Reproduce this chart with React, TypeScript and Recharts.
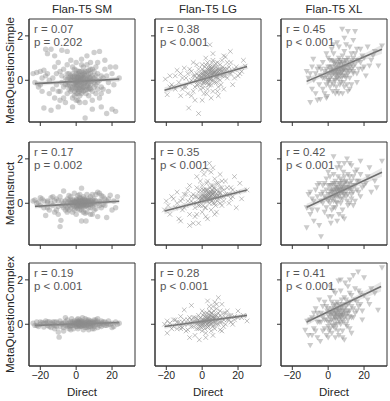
import React from 'react';
import { ComposedChart, Scatter, Area, XAxis, YAxis, ReferenceLine, ReferenceArea } from 'recharts';

const MODELS = ['Flan-T5 SM', 'Flan-T5 LG', 'Flan-T5 XL'];
const PROMPTS = ['MetaQuestionSimple', 'MetaInstruct', 'MetaQuestionComplex'];
const R_LABELS = [
  ['r = 0.07', 'r = 0.38', 'r = 0.45'],
  ['r = 0.17', 'r = 0.35', 'r = 0.42'],
  ['r = 0.19', 'r = 0.28', 'r = 0.41'],
];
const P_LABELS = [
  ['p = 0.202', 'p < 0.001', 'p < 0.001'],
  ['p = 0.002', 'p < 0.001', 'p < 0.001'],
  ['p < 0.001', 'p < 0.001', 'p < 0.001'],
];
const X_TICKS = [-20, 0, 20];
const Y_TICKS = [0, 2];
const X_DOMAIN: [number, number] = [-26.3, 32.8];
const Y_DOMAIN: [number, number] = [-1.88, 2.76];

// regression line endpoints [[x0, y0], [x1, y1]] per panel, row-major
const FIT_LINES: number[][][] = [
  [[-23, -0.15], [24, 0.05]], [[-21, -0.45], [25, 0.62]], [[-12, -0.05], [30, 1.4]],
  [[-23, -0.14], [24, 0.09]], [[-21, -0.35], [25, 0.6]], [[-12, -0.18], [30, 1.4]],
  [[-23, -0.05], [24, 0.08]], [[-21, -0.1], [25, 0.4]], [[-12, 0.1], [29.5, 1.7]],
];
// confidence band half-widths (y units) at left end, centre, right end of each fit
const BAND_HALF: number[][] = [
  [0.12, 0.04, 0.12], [0.14, 0.05, 0.12], [0.16, 0.06, 0.2],
  [0.1, 0.03, 0.1], [0.14, 0.05, 0.12], [0.16, 0.06, 0.2],
  [0.06, 0.02, 0.06], [0.1, 0.04, 0.1], [0.16, 0.06, 0.22],
];
const BAND_MID_X = [2, 3, 6];

const SM_SIMPLE = [[-24,0.3],[-22,0.35],[-20,0.4],[-18,0.45],[-16,0.3],[-23,-0.1],[-21,-0.3],[-19,-0.5],[-17,1.4],[-14,1.4],[-16,1.2],[-12,1.1],[-10,0.8],[-8,1.35],[-5,1.3],[-3,0.9],[0,0.8],[3,0.95],[6,1.1],[10,1.25],[13,1.3],[16,0.9],[19,0.6],[22,0.6],[24,0.1],[21,-0.2],[18,-0.5],[20,-1.3],[22,-1.4],[17,-1.5],[14,-1.2],[9,-1.3],[5,-1.7],[2,-1.0],[-2,-1.2],[-6,-1.0],[-10,-1.2],[-14,-1.35],[-18,-1.25],[-12,-0.8],[-15,-0.6],[-9,-0.5],[-11,-0.2],[-13,0.1],[-8,0.2],[-7,-0.3],[-5,-0.6],[-4,0.1],[-3,-0.3],[-2,0.3],[-1,-0.5],[0,-0.2],[0,0.1],[1,0.3],[1,-0.4],[2,0],[2,-0.2],[3,0.2],[3,-0.6],[4,0.1],[4,-0.3],[5,0.4],[5,-0.1],[6,-0.4],[6,0.2],[7,0],[7,-0.7],[8,0.3],[8,-0.2],[9,0.5],[10,-0.3],[10,0.1],[11,-0.6],[12,0.3],[12,-0.1],[14,0.2],[15,-0.4],[16,0.5],[13,-0.8],[-1,0.5],[-2,-0.8],[0,-0.6],[1,0.0],[2,0.2],[3,-0.1],[-3,0.0],[-5,0.3],[-6,-0.2],[-4,-0.4],[4,0.6],[6,0.7],[9,-0.9],[-7,0.5],[-9,-0.9],[11,0.6],[1,-0.9],[-1,0.2],[0.5,-0.05],[2.5,0.05],[3.5,-0.35],[-0.5,-0.1],
  [-6,0.1],[-5,-0.2],[-4,-0.1],[-4,0.3],[-3,0.2],[-3,-0.5],[-2,0],[-2,-0.3],[-1,-0.2],[-1,0.0],[-1,-0.7],[0,0.3],[0,0],[0,-0.4],[0.5,0.2],[1,0.1],[1,-0.2],[1.5,-0.5],[1.5,0.4],[2,-0.4],[2,0.4],[2.5,-0.3],[3,0.4],[3,0],[3.5,0.1],[4,-0.1],[4,-0.5],[4.5,0.3],[5,0.1],[5,-0.3],[5.5,-0.6],[6,0],[6,0.4],[6.5,-0.2],[7,0.3],[7,-0.4],[7.5,0.1],[8,-0.4],[8,0.5],[9,0],[9,-0.5],[10,0.4],[11,-0.2],[11,0.2],[12,-0.4],[13,0],[14,-0.3],[15,0.1],[-8,-0.1],[-9,0.4],[-10,-0.5],[-11,0.3],[-13,-0.4],[-15,0],[-17,0.2],[-19,0.1],[-20,-0.2],[17,0.2],[18,-0.1],[20,0.3],[-7,-0.8],[-5,0.7],[2,-0.7],[3,0.7],[8,0.8],[12,0.8],[-2,0.6],[0,-0.9],[5,-1.0],[-12,0.6],[14,-0.6],
  [0,-0.1],[0.5,-0.3],[1,0.15],[1.5,-0.1],[2,-0.05],[2.5,0.15],[3,-0.25],[3.5,0.25],[4,0],[4.5,-0.15],[5,0.2],[5.5,-0.05],[6,-0.25],[6.5,0.1],[7,-0.15],[7.5,-0.35],[8,0.1],[8.5,-0.05],[9,0.2],[-0.5,-0.35],[-1,0.1],[-1.5,-0.15],[-2,0.15],[-2.5,-0.4],[-3,0.1],[-4,-0.2],[-5,0.05],[10,-0.1],[11,0],[3,-0.45],[5,-0.45],[1,-0.6],[4,0.35],[7,0.45],[0,0.45]];
const LG_SIMPLE = [[-20.5,0.05],[-19.5,-0.65],[-18,0.2],[-16,-0.3],[-14,0.45],[-13,-0.1],[-12,-0.7],[-11,0.1],[-10,0.55],[-9,-0.3],[-8,0.3],[-7.5,-1.25],[-7,-0.1],[-6,0.4],[-5,-0.5],[-4,-0.9],[-4,0.2],[-3,-0.2],[-2,-1.5],[-2,0.5],[-1,0],[-1,-0.4],[0,0.3],[0,-0.2],[0,0.7],[1,0.1],[1,-0.6],[2,0.4],[2,-0.1],[3,0.15],[3,0.8],[3,-0.4],[4,0.3],[4,-0.2],[4.3,1.6],[5,0.5],[5,0],[6,0.2],[6,-0.5],[6,0.9],[7,0.4],[7,-0.1],[8,0.6],[8,0.1],[9,0.3],[9,-0.3],[10,0.7],[10,0],[11,0.4],[12,0.2],[12,-0.4],[13,1.05],[13,0.5],[14,0.1],[15,0.6],[15.7,1.3],[16,0.3],[17,-0.2],[18,0.5],[20,0.2],[22,0.4],[24,0.64],[-5,0.8],[-8,-0.6],[-15,0.2],[1.5,0.6],[2.5,-0.6],[3.5,0.45],[5.5,0.25],[7.5,0.75],[8.5,-0.5],[11,0.9],[-0.5,0.15],[1,0.35],[2,0.05],[4.5,0.05],[-2.5,-0.05],[0.5,-0.35],[9.5,0.45],[14,0.8],[-10,-0.3],[-17,-0.2],
  [-6,0],[-5,0.2],[-4,-0.3],[-3,0.3],[-3,0.1],[-2,-0.2],[-2,0.2],[-1,0.3],[-1,0.1],[0,0.1],[0,0.5],[0.5,-0.1],[1,0.4],[1,0.2],[1.5,0],[2,0.2],[2,0.7],[2.5,0.3],[3,0],[3,0.5],[3.5,-0.2],[4,0.5],[4,0.1],[4.5,0.6],[5,0.3],[5,-0.2],[5.5,0.8],[6,0.4],[6,0],[6.5,0.2],[7,0.6],[7,0.2],[7.5,0.4],[8,0.3],[8,-0.1],[8.5,0.8],[9,0.5],[9,0.1],[10,0.3],[10,0.5],[10.5,-0.2],[11,0.2],[11.5,0.6],[12,0.5],[13,0.2],[14,0.5],[15,0.3],[16,0.8],[17,0.4],[19,0.6],[21,0.3],[-7,0.5],[-9,0.1],[-11,-0.4],[-12,0.3],[-15,-0.4],[-6,-0.7],[0,-0.9],[5,-0.8],[9,-0.7],[12,1.1],[6,1.2],[2,1.0],[-3,0.7],[18,0.1],[23,0.9],[-18,-0.3],
  [1,0.25],[2,0.35],[3,0.25],[4,0.2],[5,0.4],[6,0.3],[7,0.35],[8,0.45],[9,0.4],[2.5,0.1],[3.5,0.3],[4.5,0.45],[5.5,0.55],[6.5,0.35],[7.5,0.25],[0,0],[-1,0.2],[-2,0.05],[10,0.25],[11,0.5],[4,0.65],[6,0.6],[8,0.15],[3,-0.1],[1,-0.1],[5,0.1],[12,0.35],[-4,0.0]];
const XL_SIMPLE = [[-12,0.4],[-11,0.1],[-10,-1.0],[-9,-0.4],[-8.3,0.95],[-8,0],[-7,-0.6],[-6,0.5],[-5,-0.2],[-4.4,-0.86],[-4,0.2],[-3,0.8],[-3,-0.4],[-2,0.1],[-1,0.5],[-0.6,-0.73],[0,-0.1],[0,0.3],[1,0.9],[1,-0.3],[2,0.2],[2,0.6],[3,-0.2],[3,1.2],[4,0.4],[4,0],[5,1.7],[5,0.7],[5,-0.5],[6,0.2],[6,1.0],[7,0.5],[7,-0.1],[7.8,2.3],[8,0.8],[8,0.2],[9,1.3],[9,-0.3],[10,0.6],[10,0.1],[11,2.2],[11,1.0],[12,0.4],[13,0.9],[13,-0.2],[14,0.6],[15,2.2],[15,1.2],[16,0.3],[17,0.9],[18,1.4],[19,0.5],[20,1.0],[21,0.2],[23,0.65],[25,1.1],[28,0.65],[30,1.55],[-1,1.2],[0.5,0.0],[1.5,0.45],[2.5,-0.5],[3.5,0.75],[4.5,0.25],[6.5,0.55],[8.5,0.5],[12,1.5],[14,1.8],[-6,-0.9],[3,1.6],[9,1.9],[6,-0.6],[-2,-0.6],[11,-0.5],[22,1.5],
  [-4,0.5],[-3,0.1],[-2,0.4],[-1,-0.2],[-1,0.2],[0,0.6],[0,0.0],[1,0.3],[1,0.6],[2,-0.1],[2,0.9],[3,0.3],[3,0.5],[3.5,0.0],[4,0.8],[4,0.2],[4.5,-0.3],[5,0.4],[5,0.1],[5.5,0.9],[6,0.5],[6,0.7],[6.5,-0.2],[7,0.3],[7,0.9],[7.5,0.1],[8,0.4],[8,1.1],[8.5,-0.1],[9,0.6],[9,0.2],[10,0.9],[10,0.4],[10.5,-0.2],[11,0.6],[11,0.3],[12,0.8],[12,0.1],[13,0.5],[13,1.2],[14,0.3],[14,1.0],[15,0.7],[16,0.9],[16,1.4],[17,0.5],[18,0.8],[19,1.1],[20,0.6],[-5,0.6],[-7,0.3],[-9,0.6],[-10,0.3],[2,1.4],[6,1.5],[10,1.6],[0,1.0],[4,-0.6],[8,-0.6],[12,-0.4],[-1,-0.8],[24,0.9],[26,1.3],[16,-0.1],
  [3,0.4],[4,0.6],[5,0.55],[6,0.35],[7,0.7],[8,0.55],[9,0.45],[10,0.75],[11,0.45],[12,0.6],[4.5,0.45],[5.5,0.25],[6.5,0.8],[7.5,0.35],[8.5,0.75],[2,0.35],[1,0.1],[13,0.7],[9.5,0.9],[6,0.05],[10,0.2],[3,0.85],[14,0.4]];
const SM_INSTRUCT = [[-24,0.1],[-23,0.15],[-21,0.05],[-20,-0.1],[-19,0.2],[-18,-0.2],[-17,-0.55],[-16,0.1],[-15,-0.3],[-14,0.25],[-13,-0.1],[-12,-0.4],[-11,0.2],[-10,-0.15],[-9,-1.05],[-8.5,-0.77],[-7,0.55],[-8,0.1],[-6,-0.3],[-5,0.2],[-4,-0.1],[-3,0.3],[-2,-0.4],[-1,0.1],[0,-0.2],[0,0.2],[1,-0.1],[1,0.35],[2,0],[2,-0.3],[3,0.68],[3,-0.8],[3,0.1],[4,-0.2],[4,0.3],[5,0.05],[5.5,-0.8],[6,-0.4],[6,0.4],[7,0.1],[7,-0.2],[8,0.3],[8,-0.5],[9,0],[10,0.2],[10,-0.3],[11,0.4],[12,0.5],[12,-0.6],[13,0.1],[14,-0.2],[15,0.3],[16,-0.1],[17,-0.64],[18,0.2],[19,0.36],[20,-0.3],[21,0.1],[22,-0.2],[23,0.3],[-1,-0.3],[0.5,0],[1.5,0.15],[2.5,-0.15],[3.5,0.2],[4.5,-0.05],[-2,0.15],[-3,-0.2],[-5,-0.4],[-7,-0.2],[-9,0.3],[-11,-0.3],[-13,0.3],[6,0.15],[8,-0.05],[9,0.4],[11,-0.25],[-0.5,0.05],[2,0.25],[4,-0.4],[-4,0.35],[14,0.35],[16,0.2],[-16,-0.2],[-20,0.25],
  [-8,-0.1],[-7,0],[-6,0.1],[-6,-0.1],[-5,0],[-5,-0.2],[-4,0.1],[-4,-0.3],[-3,0],[-3,0.15],[-2,-0.1],[-2,0.05],[-1,0],[-1,-0.15],[0,0],[0,0.1],[0,-0.1],[0.5,0.15],[1,0],[1,-0.25],[1.5,0.05],[2,0.1],[2,-0.1],[2.5,0.2],[3,-0.05],[3,-0.3],[3.5,0],[4,0.1],[4,-0.1],[4.5,0.2],[5,-0.15],[5,0.15],[5.5,0],[6,-0.1],[6,0.05],[7,0.2],[7,-0.05],[8,0.1],[8,-0.2],[9,0.15],[9,-0.1],[10,0],[10,0.1],[11,0.1],[12,0],[13,-0.1],[14,0.1],[15,-0.05],[17,0.1],[-10,0.1],[-12,0.1],[-14,0],[-16,0.05],[-18,0.1],[-22,0],[-10,-0.5],[0,-0.5],[5,-0.45],[2,0.4],[-1,0.45],[9,-0.5],[13,0.45],
  [0,0.05],[1,0.05],[2,-0.05],[3,0.05],[4,0],[5,0.1],[6,-0.05],[7,0.05],[8,0],[-1,0.05],[-2,-0.05],[1.5,-0.1],[2.5,0.1],[3.5,-0.1],[4.5,0.05],[5.5,-0.1],[6.5,0.1],[0.5,-0.15],[-3,0.05],[9,0.05],[10,-0.05]];
const LG_INSTRUCT = [[-21,-0.3],[-20,0.1],[-18,-0.5],[-17,0.3],[-15,-0.2],[-14,0.5],[-13,-0.7],[-12,0.1],[-11,-0.3],[-10,0.4],[-9,-0.1],[-8,0.6],[-7,-0.5],[-6,0.1],[-5,-0.9],[-5,0.4],[-4,-0.2],[-3,0.7],[-3,-0.5],[-2,0.2],[-1,-0.1],[-1,1.0],[0,0.4],[0,-0.4],[1,0.1],[1,1.3],[2,0.6],[2,-0.2],[3,0.3],[3,-0.7],[3,1.0],[4,0.2],[4,1.8],[5,0.5],[5,-0.3],[5,1.4],[6,0.8],[6,0],[7,0.3],[7,1.1],[8,0.6],[8,-0.4],[9,0.2],[9,0.9],[10,0.5],[11,-0.1],[11,0.7],[12,0.3],[13,1.0],[14,0.4],[15,0],[16,0.7],[17,0.3],[18,1.2],[20,0.5],[22,0.2],[25,0.6],[-7,-1.0],[-2,-0.9],[0.5,0.6],[1.5,0.25],[2.5,0.9],[3.5,0.45],[4.5,0.7],[5.5,0.1],[6.5,0.45],[7.5,-0.1],[0,1.5],[-3,1.2],[10,1.3],[-0.5,0.2],[2,0.3],[-12,-0.8],[19,-0.2],
  [-6,0.3],[-5,0],[-4,0.3],[-3,0],[-3,0.3],[-2,-0.1],[-2,0.5],[-1,0.3],[-1,0.6],[0,0.1],[0,0.2],[0,0.8],[0.5,-0.1],[1,0.4],[1,0.6],[1.5,-0.2],[2,0.1],[2,0.4],[2.5,0.6],[3,0.1],[3,0.6],[3.5,0.2],[4,0.4],[4,0],[4.5,0.3],[5,0.2],[5,0.8],[5.5,0.4],[6,0.5],[6,0.2],[6.5,0.7],[7,0],[7,0.5],[8,0.3],[8,0.9],[8.5,0.1],[9,0.5],[9.5,0.3],[10,0],[10,0.7],[11,0.3],[12,0.6],[12,0.1],[13,0.4],[14,0.7],[15,0.4],[16,0.2],[17,0.6],[-8,0.1],[-9,0.4],[-10,-0.2],[-11,0.2],[-14,0],[-16,0.2],[-7,0.8],[3,1.5],[6,1.6],[2,-0.6],[-4,-0.6],[7,-0.5],[11,1.0],[21,0.9],[-19,-0.1],
  [1,0.3],[2,0.25],[3,0.4],[4,0.3],[5,0.35],[6,0.4],[7,0.3],[8,0.45],[2.5,0.2],[3.5,0.5],[4.5,0.15],[5.5,0.6],[6.5,0.25],[0,0.3],[-1,0.15],[9,0.35],[10,0.45],[3,0.2],[5,0.5],[7,0.65]];
const XL_INSTRUCT = [[-12,-0.2],[-12,-1.1],[-11,0.4],[-10,-0.5],[-9,0.2],[-8,-0.8],[-7,0.6],[-6,-0.3],[-5,0.9],[-5,-1.0],[-4,-1.5],[-4,0.1],[-3,0.5],[-2,-0.4],[-1,0.2],[-1,1.1],[0,-0.6],[0,0.4],[1,0],[1,0.8],[2,-0.3],[2,0.5],[3,1.3],[3,0.1],[4,-0.2],[4,0.7],[5,0.3],[5,1.6],[6,-0.5],[6,0.6],[7,1.1],[7,0.2],[8,0.5],[8,-0.3],[9,0.9],[9,1.8],[10,0.3],[10.5,2.0],[11,0.7],[11,-0.1],[12,1.2],[13,0.4],[13,1.7],[14,0.8],[15,0.1],[15,1.4],[16,0.6],[17,1.0],[18,0.3],[18,1.9],[20,0.8],[22,1.2],[24,0.5],[26,1.0],[30,1.9],[-2,0.9],[0.5,0.2],[2.5,0.9],[3.5,0.35],[4.5,0.05],[6.5,0.9],[8.5,1.4],[1.5,-0.9],[-6,0.3],[9,-0.7],[12,0.0],[5,-0.8],[16,1.5],[3,2.1],[7,1.6],
  [-4,0.4],[-3,0],[-3,0.8],[-2,0.3],[-1,-0.2],[-1,0.6],[0,0.1],[0,0.8],[1,0.4],[1,1.2],[2,0.2],[2,0.8],[3,0.5],[3,-0.2],[3.5,0.9],[4,0.3],[4,1.0],[4.5,0.6],[5,0],[5,0.7],[5.5,1.2],[6,0.3],[6,0.9],[6.5,0.5],[7,0.6],[7,0.0],[7.5,1.0],[8,0.8],[8,0.2],[8.5,0.6],[9,0.4],[9,1.2],[10,0.7],[10,1.0],[10.5,0.1],[11,0.4],[11,1.3],[12,0.6],[12,0.9],[13,0.2],[13,1.0],[14,0.5],[14,1.2],[15,0.8],[16,1.0],[17,0.5],[18,1.3],[19,0.7],[21,0.9],[-6,0.8],[-8,0.1],[-9,-0.3],[-10,0.5],[0,1.4],[6,1.8],[12,1.8],[2,-0.6],[8,-0.6],[14,-0.1],[23,1.6],[27,0.7],
  [3,0.6],[4,0.5],[5,0.55],[6,0.7],[7,0.45],[8,0.65],[9,0.7],[10,0.5],[11,0.85],[4.5,0.8],[5.5,0.4],[6.5,0.6],[7.5,0.75],[8.5,0.4],[2,0.6],[12,0.7],[3,0.25],[9.5,0.95],[13,0.6],[1,0.55]];
const SM_COMPLEX = [[-24,0.05],[-23,-0.05],[-22,0.1],[-21,-0.1],[-20,0],[-19,0.08],[-18,-0.12],[-17,0.05],[-16,-0.05],[-15,0.12],[-14,-0.15],[-13,0],[-12,0.1],[-11,-0.1],[-10,-0.35],[-9.5,-0.58],[-9,-0.1],[-8,0.05],[-7,-0.15],[-6,0.3],[-5,0],[-4,-0.2],[-3,0.12],[-2,-0.05],[-1,0.15],[0,-0.1],[0,0.05],[1,0.1],[1,-0.2],[2,0],[2,0.2],[3,-0.1],[3,0.15],[4,0.05],[4,-0.25],[5,0.25],[5,-0.05],[6,0.1],[6,-0.15],[7,0],[7,0.2],[8,-0.1],[8,0.15],[9,0.05],[10,-0.2],[10,0.2],[11,0],[12,0.1],[12,-0.15],[13,0.05],[14,0.15],[14,-0.1],[15,0],[16,0.1],[17,-0.05],[18,0.15],[19,0],[20,0.05],[21,-0.1],[22,0.1],[23,0],[24,0.05],[-1.5,-0.2],[0.5,0.2],[1.5,-0.05],[2.5,0.1],[-3.5,-0.1],[-6,-0.05],[-12,-0.2],[-17,0.15],[9,-0.2],[11,0.2],[-2.5,0.25],[3.5,0.3],
  [-8,0],[-7,0.05],[-6,0.1],[-5,-0.1],[-4,0.05],[-3,-0.05],[-2,0.1],[-1,-0.05],[-1,0.05],[0,0],[0,0.12],[0.5,-0.1],[1,0.05],[1.5,0.1],[2,-0.1],[2,0.05],[3,0],[3,0.08],[4,0.12],[4,-0.05],[5,0.05],[5,-0.15],[6,0],[6,0.2],[7,-0.1],[7,0.1],[8,0],[8,0.05],[9,0.12],[9,-0.05],[10,0.05],[10,-0.1],[11,0.1],[12,0],[13,-0.05],[14,0.05],[15,0.1],[16,-0.05],[17,0.05],[18,0],[-10,0.05],[-11,0.1],[-12,-0.05],[-13,0.1],[-14,0.05],[-15,-0.1],[-16,0.1],[-18,0.05],[-20,0.1],[-22,-0.05],[-9,0.15],[-5,0.2],[-3,-0.25],[1,0.25],[7,-0.25],[12,0.25],[-7,-0.3],[20,-0.15],
  [0,0.03],[1,-0.03],[2,0.08],[3,-0.05],[4,0.02],[5,0.08],[6,-0.05],[7,0.05],[-1,0],[-2,0.03],[-3,0.05],[0.5,0.07],[1.5,0],[2.5,-0.08],[3.5,0.05],[4.5,-0.02],[8,0.08],[9,0],[-4,-0.05],[10,0.08]];
const LG_COMPLEX = [[-21,0],[-19.5,0.15],[-19.5,-0.4],[-18,0.05],[-16,-0.1],[-15,0.2],[-14,-0.2],[-13,0.1],[-12,0.35],[-11,-0.15],[-10,0.65],[-10,0],[-9,-0.3],[-8,0.2],[-7,-0.6],[-7,0.05],[-6,0.85],[-6,-0.1],[-5,0.3],[-4,-0.5],[-4,0.1],[-3,-0.2],[-2,0.4],[-1.6,-0.7],[-1,0],[0,0.2],[0,-0.3],[1,0.5],[1,-0.1],[2,0.15],[2,-0.4],[3,1.05],[3,0.3],[3,-0.15],[4,0.6],[4,0],[5,0.25],[5,-0.3],[6,0.8],[6,0.1],[7,0.4],[7,-0.2],[8,0.2],[8,0.7],[9,1.2],[9,0],[10,0.4],[11,0.1],[11,0.9],[12,0.5],[12,-0.1],[13,0.3],[14,0.6],[15,0.2],[16,0.4],[17,0],[18,0.35],[20,0.6],[22,0.3],[25,0.15],[-2,0.1],[0.5,0.05],[1.5,0.35],[2.5,0],[3.5,0.45],[4.5,0.15],[5.5,0.5],[6.5,-0.05],[-0.5,-0.15],[-3,0.25],[-8,-0.25],[10,-0.25],[7,1.0],[-12,-0.1],
  [-8,0],[-7,0.3],[-6,0.2],[-5,-0.1],[-5,0.1],[-4,0.3],[-3,0],[-3,0.1],[-2,-0.2],[-2,0.2],[-1,0.3],[-1,-0.1],[0,0],[0,0.1],[0.5,0.4],[1,0.2],[1,0],[1.5,-0.2],[2,0.3],[2,0.1],[2.5,0.5],[3,0],[3,0.15],[3.5,-0.1],[4,0.3],[4,0.1],[4.5,0.4],[5,0],[5,0.5],[5.5,0.2],[6,0.3],[6,-0.1],[6.5,0.6],[7,0.1],[7,0.3],[8,0],[8,0.4],[9,0.3],[9,0.5],[10,0.1],[10,0.6],[11,0.3],[12,0.2],[13,0],[13,0.5],[14,0.2],[15,0.4],[16,0.1],[18,0.2],[20,0.3],[-10,0.2],[-11,0.1],[-12,-0.2],[-14,0.1],[-16,0.2],[-17,-0.2],[4,0.8],[8,0.9],[0,0.6],[2,-0.6],[6,-0.5],[11,-0.3],[23,0.4],
  [1,0.15],[2,0.2],[3,0.25],[4,0.2],[5,0.15],[6,0.2],[7,0.25],[0,0.15],[-1,0.1],[2.5,0.15],[3.5,0.3],[4.5,0.1],[5.5,0.35],[1.5,0.1],[8,0.15],[9,0.2],[-2,0.0],[6.5,0.3]];
const XL_COMPLEX = [[-12.8,-0.27],[-11.7,0.14],[-11,-0.5],[-10,-0.95],[-9,0.3],[-8,-0.2],[-7,0.7],[-6,-0.6],[-5,0.1],[-4.4,-0.77],[-4,0.5],[-3,-0.3],[-2,1.0],[-2,0.2],[-1,-0.5],[0,0.4],[0,-0.1],[1,1.2],[1,0.1],[2,-0.4],[2,0.7],[3,0.2],[3,1.5],[4,-0.2],[4,0.6],[5,1.0],[5,0],[5.7,1.95],[6,0.4],[6,-0.5],[7,0.8],[7,1.5],[8,0.2],[8,-0.3],[9,0.6],[9.5,1.86],[10,1.1],[10,0],[11,0.5],[12,1.4],[12,-0.2],[13,0.8],[14,2.2],[14,0.3],[15,1.1],[16,0.6],[16.7,2.36],[17,1.5],[18,0.9],[19,0.2],[20,1.3],[22,1.1],[24,1.6],[27.8,0.64],[30,2.55],[-0.5,0.6],[0.5,-0.3],[1.5,0.45],[2.5,-0.05],[3.5,0.35],[4.5,0.85],[6.5,0.1],[7.5,0.5],[-3,0.8],[11,1.7],[9,-0.7],[-6,0.5],[13,-0.4],
  [-4,0.1],[-3,0.3],[-2,-0.2],[-1,0.2],[-1,0.8],[0,0.1],[0,0.7],[1,-0.2],[1,0.5],[2,0.2],[2,1.0],[3,0.6],[3,-0.1],[3.5,0.9],[4,0.3],[4,0.0],[4.5,0.5],[5,0.7],[5,0.3],[5.5,-0.3],[6,0.9],[6,0.2],[6.5,0.6],[7,0.0],[7,0.4],[7.5,1.1],[8,0.6],[8,0.9],[8.5,0.1],[9,0.3],[9,1.2],[10,0.5],[10,0.8],[10.5,-0.1],[11,0.9],[11,0.2],[12,0.6],[12,1.0],[13,0.3],[13,1.3],[14,0.7],[15,0.5],[15,1.6],[16,1.0],[17,0.8],[18,1.4],[19,0.6],[-6,0.1],[-7,-0.3],[-8,0.5],[-9,-0.5],[-10,0.2],[0,-0.6],[4,-0.6],[8,-0.6],[1,1.7],[7,2.0],[12,2.0],[4,1.4],[20,2.1],[23,0.9],[26,1.4],[-5,1.1],
  [3,0.4],[4,0.5],[5,0.45],[6,0.6],[7,0.3],[8,0.4],[9,0.7],[10,0.35],[2,0.5],[4.5,0.2],[5.5,0.65],[6.5,0.35],[7.5,0.75],[8.5,0.45],[11,0.6],[1,0.3],[3,0.8],[12,0.35]];

const PANEL_DATA = [
  [SM_SIMPLE, LG_SIMPLE, XL_SIMPLE],
  [SM_INSTRUCT, LG_INSTRUCT, XL_INSTRUCT],
  [SM_COMPLEX, LG_COMPLEX, XL_COMPLEX],
];

const FONT = '"Liberation Sans", Arial, sans-serif';
const PLOT_W = 106;
const PLOT_H = 103;
const COL_LEFT = [29, 155, 281];
const ROW_TOP = [19, 142, 263];
const Y_AXIS_W = 22;
const MT = 4;
const MR = 4;
const X_AXIS_H = 24;
const AXIS_COLOR = '#333';
const MARK = '#8c8c8c';

const fmt = (v: number) => (v < 0 ? '\u2212' + Math.abs(v) : String(v));

const Circle = (p: any) => <circle cx={p.cx} cy={p.cy} r={2.7} fill={MARK} fillOpacity={0.42} />;
const Cross = (p: any) => (
  <g stroke={MARK} strokeOpacity={0.55} strokeWidth={1}>
    <line x1={p.cx - 2.3} y1={p.cy - 2.3} x2={p.cx + 2.3} y2={p.cy + 2.3} />
    <line x1={p.cx - 2.3} y1={p.cy + 2.3} x2={p.cx + 2.3} y2={p.cy - 2.3} />
  </g>
);
const Tri = (p: any) => (
  <polygon
    points={`${p.cx - 3},${p.cy - 2.4} ${p.cx + 3},${p.cy - 2.4} ${p.cx},${p.cy + 3}`}
    fill={MARK}
    fillOpacity={0.45}
  />
);
const SHAPES = [Circle, Cross, Tri];

function Panel({ row, col }: { row: number; col: number }) {
  const idx = row * 3 + col;
  const data = PANEL_DATA[row][col].map(([x, y]) => ({ x, y }));
  const fit = FIT_LINES[idx];
  const half = BAND_HALF[idx];
  const slope = (fit[1][1] - fit[0][1]) / (fit[1][0] - fit[0][0]);
  const yAt = (x: number) => fit[0][1] + slope * (x - fit[0][0]);
  const band = [fit[0][0], BAND_MID_X[col], fit[1][0]].map((x, i) => ({
    x,
    range: [yAt(x) - half[i], yAt(x) + half[i]],
  }));
  const Shape = SHAPES[col];
  return (
    <div style={{ position: 'absolute', left: COL_LEFT[col] - Y_AXIS_W, top: ROW_TOP[row] - MT }}>
      <ComposedChart
        width={Y_AXIS_W + PLOT_W + MR}
        height={MT + PLOT_H + X_AXIS_H}
        margin={{ top: MT, right: MR, bottom: 0, left: 0 }}
      >
        <XAxis
          type="number"
          dataKey="x"
          domain={X_DOMAIN}
          ticks={X_TICKS}
          allowDataOverflow
          height={X_AXIS_H}
          tickSize={4}
          tickMargin={2}
          stroke={AXIS_COLOR}
          tick={{ fill: '#262626', fontSize: 10.5, fontFamily: FONT }}
          tickFormatter={(v: number) => (row === 2 ? fmt(v) : '')}
        />
        <YAxis
          type="number"
          domain={Y_DOMAIN}
          ticks={Y_TICKS}
          allowDataOverflow
          width={Y_AXIS_W}
          tickSize={4}
          tickMargin={2}
          stroke={AXIS_COLOR}
          tick={{ fill: '#262626', fontSize: 10.5, fontFamily: FONT }}
          tickFormatter={(v: number) => (col === 0 ? fmt(v) : '')}
        />
        <ReferenceArea
          x1={X_DOMAIN[0]}
          x2={X_DOMAIN[1]}
          y1={Y_DOMAIN[0]}
          y2={Y_DOMAIN[1]}
          fill="none"
          stroke={AXIS_COLOR}
          strokeWidth={1}
          ifOverflow="visible"
        />
        <Scatter data={data} dataKey="y" isAnimationActive={false} shape={(p: any) => <Shape {...p} />} />
        <Area
          data={band}
          dataKey="range"
          type="linear"
          stroke="none"
          fill="#9a9a9a"
          fillOpacity={0.25}
          isAnimationActive={false}
          dot={false}
          activeDot={false}
        />
        <ReferenceLine
          segment={[
            { x: fit[0][0], y: fit[0][1] },
            { x: fit[1][0], y: fit[1][1] },
          ]}
          stroke="#6e6e6e"
          strokeWidth={1.6}
          ifOverflow="visible"
        />
      </ComposedChart>
    </div>
  );
}

export default function App() {
  const rows = [0, 1, 2];
  const cols = [0, 1, 2];
  return (
    <div style={{ position: 'absolute', left: 0, top: 0, width: 390, height: 401, background: '#fff' }}>
      {rows.map((r) => cols.map((c) => <Panel key={`${r}-${c}`} row={r} col={c} />))}
      <svg
        width={390}
        height={401}
        style={{ position: 'absolute', left: 0, top: 0, pointerEvents: 'none' }}
        fontFamily={FONT}
      >
        {MODELS.map((m, c) => (
          <text key={m} x={COL_LEFT[c] + PLOT_W / 2} y={13} textAnchor="middle" fontSize={11.5} fill="#262626">
            {m}
          </text>
        ))}
        {MODELS.map((m, c) => (
          <text key={'d' + m} x={COL_LEFT[c] + PLOT_W / 2} y={396} textAnchor="middle" fontSize={11.5} fill="#262626">
            Direct
          </text>
        ))}
        {PROMPTS.map((p, r) => (
          <text
            key={p}
            transform={`translate(14 ${ROW_TOP[r] + PLOT_H / 2}) rotate(-90)`}
            textAnchor="middle"
            fontSize={11.5}
            fill="#262626"
          >
            {p}
          </text>
        ))}
        {rows.map((r) =>
          cols.map((c) => (
            <g key={`t${r}${c}`} fontSize={11.5} fill="#555">
              <text x={COL_LEFT[c] + 5} y={ROW_TOP[r] + 14}>{R_LABELS[r][c]}</text>
              <text x={COL_LEFT[c] + 5} y={ROW_TOP[r] + 27}>{P_LABELS[r][c]}</text>
            </g>
          ))
        )}
      </svg>
    </div>
  );
}
